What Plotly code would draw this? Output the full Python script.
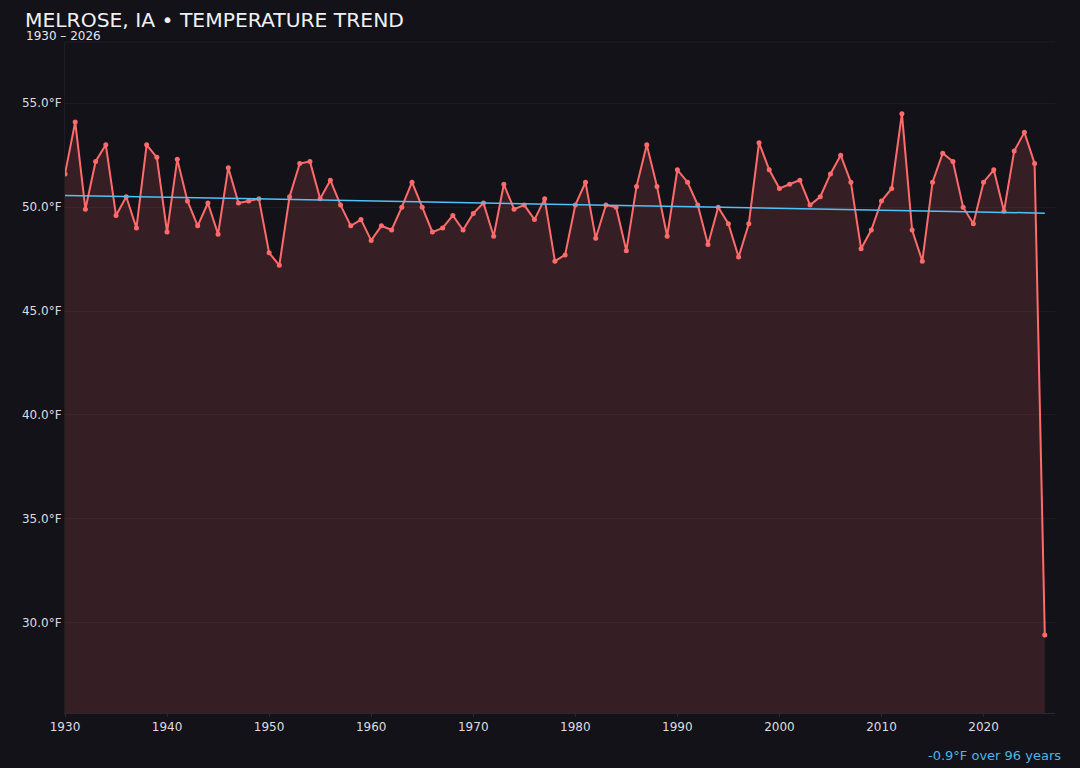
import numpy as np
import plotly.graph_objects as go

# annual mean temperature, Melrose IA (°F)
years = list(range(1930, 2027))
temps = [
    51.6, 54.1, 49.9, 52.2, 53.0, 49.6, 50.5, 49.0, 53.0, 52.4,  # 1930s
    48.8, 52.3, 50.3, 49.1, 50.2, 48.7, 51.9, 50.2, 50.3, 50.4,  # 1940s
    47.8, 47.2, 50.5, 52.1, 52.2, 50.4, 51.3, 50.1, 49.1, 49.4,  # 1950s
    48.4, 49.1, 48.9, 50.0, 51.2, 50.0, 48.8, 49.0, 49.6, 48.9,  # 1960s
    49.7, 50.2, 48.6, 51.1, 49.9, 50.1, 49.4, 50.4, 47.4, 47.7,  # 1970s
    50.1, 51.2, 48.5, 50.1, 50.0, 47.9, 51.0, 53.0, 51.0, 48.6,  # 1980s
    51.8, 51.2, 50.1, 48.2, 50.0, 49.2, 47.6, 49.2, 53.1, 51.8,  # 1990s
    50.9, 51.1, 51.3, 50.1, 50.5, 51.6, 52.5, 51.2, 48.0, 48.9,  # 2000s
    50.3, 50.9, 54.5, 48.9, 47.4, 51.2, 52.6, 52.2, 50.0, 49.2,  # 2010s
    51.2, 51.8, 49.8, 52.7, 53.6, 52.1, 29.4,                    # 2020s
]

TITLE = "MELROSE, IA • TEMPERATURE TREND"
SUBTITLE = f"{years[0]} – {years[-1]}"

BG = "#131218"
RED = "#ff6b6b"
BLUE = "#4fc3f7"
TXT = "#dcdce0"

# linear trend
slope, intercept = np.polyfit(years, temps, 1)
trend_x = [years[0], years[-1]]
trend_y = [slope * x + intercept for x in trend_x]
span = years[-1] - years[0]
change = slope * span

fig = go.Figure()

fig.add_trace(go.Scatter(
    x=years,
    y=temps,
    mode="lines+markers",
    line=dict(color=RED, width=2),
    marker=dict(color=RED, size=5),
    fill="tozeroy",
    fillcolor="rgba(255,107,107,0.15)",
    hovertemplate="%{x}: %{y:.1f}°F<extra></extra>",
    showlegend=False,
))

fig.add_trace(go.Scatter(
    x=trend_x,
    y=trend_y,
    mode="lines",
    line=dict(color=BLUE, width=1.5),
    hoverinfo="skip",
    showlegend=False,
))

fig.add_annotation(
    text=TITLE, xref="paper", yref="paper", x=-0.0425, y=1.0, yshift=22,
    xanchor="left", yanchor="middle", showarrow=False,
    font=dict(size=20.3, color="#f0f0f2"),
)
fig.add_annotation(
    text=SUBTITLE, xref="paper", yref="paper", x=-0.0415, y=1.0, yshift=6,
    xanchor="left", yanchor="middle", showarrow=False,
    font=dict(size=12, color="#e6e6ea"),
)
fig.add_annotation(
    text=f"{change:+.1f}°F over {span} years".replace("+", ""),
    xref="paper", yref="paper", x=1.0085, y=0, yshift=-42,
    xanchor="right", yanchor="middle", showarrow=False,
    font=dict(size=13, color="#4fb3e8"),
)

# faint top border of the plot area
fig.add_shape(type="line", xref="paper", yref="paper", x0=0, x1=1, y0=1, y1=1,
              line=dict(color="#1e1d24", width=1))

fig.update_layout(
    width=1080,
    height=768,
    paper_bgcolor=BG,
    plot_bgcolor=BG,
    font=dict(family="DejaVu Sans", size=12, color=TXT),
    margin=dict(l=65, r=25, t=42, b=55),
    xaxis=dict(
        range=[1930, 2027],
        dtick=10,
        showgrid=False,
        zeroline=False,
        showline=True,
        linecolor="#2a2930",
        ticks="outside",
        ticklen=3,
        tickcolor="#2a2930",
        tickfont=dict(size=12, color=TXT),
    ),
    yaxis=dict(
        range=[25.65, 57.95],
        dtick=5,
        ticksuffix="°F",
        tickformat=".1f",
        showgrid=True,
        gridcolor="rgba(255,255,255,0.035)",
        zeroline=False,
        showline=True,
        linecolor="#1e1d24",
        tickfont=dict(size=12, color=TXT),
    ),
)

fig.write_html(
    "out.html",
    config={"displayModeBar": False},
    post_script="document.body.style.margin='0';document.body.style.background='%s';" % BG,
)
